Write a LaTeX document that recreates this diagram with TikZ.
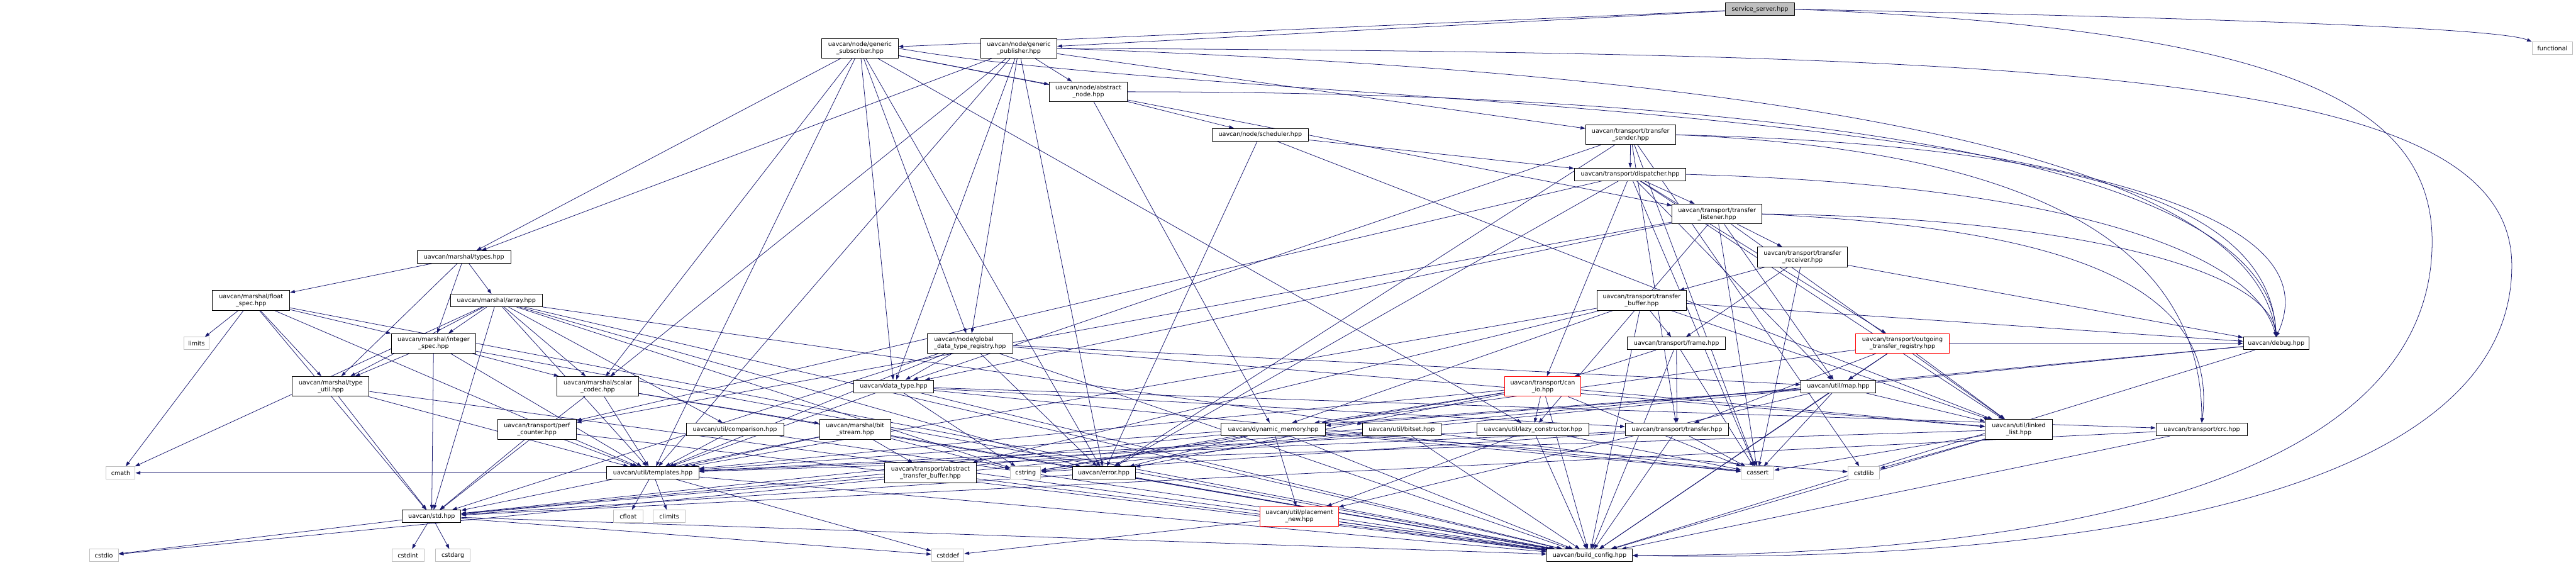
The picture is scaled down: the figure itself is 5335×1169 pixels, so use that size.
\documentclass[tikz,border=0pt]{standalone}
\usepackage{fontspec}
\setmainfont{DejaVu Sans}
\usetikzlibrary{arrows.meta}
\pgfdeclarelayer{bg}
\pgfsetlayers{bg,main}
\definecolor{edgec}{HTML}{191970}
\definecolor{sysg}{HTML}{BFBFBF}
\begin{document}
\begin{tikzpicture}[x=1bp,y=-1bp,
  nd/.style={draw=black,line width=1.3bp,fill=white,inner sep=0pt,align=center,minimum height=26bp,font=\fontsize{12.5bp}{14.5bp}\selectfont},
  two/.style={minimum height=41bp},
  sys/.style={nd,draw=sysg},
  hot/.style={nd,draw=red},
  root/.style={nd,fill=sysg},
  e/.style={draw=edgec,line width=1bp,-{Triangle[length=10bp,width=7bp]}}]
\useasboundingbox (0,0) rectangle (5335,1169);
% rank 1
\node[root,minimum width=144bp] (ss) at (3645,19) {service\_server.hpp};
% rank 2
\node[sys,minimum width=84bp] (fn) at (5286,100) {functional};
\node[nd,two,minimum width=158bp] (gs) at (1781,100) {uavcan/node/generic\\\_subscriber.hpp};
\node[nd,two,minimum width=158bp] (gp) at (2110,100) {uavcan/node/generic\\\_publisher.hpp};
% rank 3
\node[nd,two,minimum width=162bp] (an) at (2254,190) {uavcan/node/abstract\\\_node.hpp};
% rank 4
\node[nd,minimum width=200bp] (sch) at (2610,279) {uavcan/node/scheduler.hpp};
\node[nd,two,minimum width=186bp] (ts) at (3377,279) {uavcan/transport/transfer\\\_sender.hpp};
% rank 5
\node[nd,minimum width=231bp] (disp) at (3376,361) {uavcan/transport/dispatcher.hpp};
% rank 6
\node[nd,two,minimum width=186bp] (tl) at (3556,443) {uavcan/transport/transfer\\\_listener.hpp};
% rank 7
\node[nd,minimum width=194bp] (ty) at (961,532) {uavcan/marshal/types.hpp};
\node[nd,two,minimum width=186bp] (tr) at (3733,532) {uavcan/transport/transfer\\\_receiver.hpp};
% rank 8
\node[nd,two,minimum width=160bp] (fs) at (520,622) {uavcan/marshal/float\\\_spec.hpp};
\node[nd,minimum width=190bp] (ar) at (1028,622) {uavcan/marshal/array.hpp};
\node[nd,two,minimum width=185bp] (tb) at (3400,622) {uavcan/transport/transfer\\\_buffer.hpp};
% rank 9
\node[sys,minimum width=51bp] (lim) at (407,711) {limits};
\node[nd,two,minimum width=175bp] (is) at (898,711) {uavcan/marshal/integer\\\_spec.hpp};
\node[nd,two,minimum width=176bp,align=left] (gdtr) at (2009,711) {uavcan/node/global\\\_data\_type\_registry.hpp};
\node[nd,minimum width=203bp] (fr) at (3472,711) {uavcan/transport/frame.hpp};
\node[hot,two,minimum width=194bp] (otr) at (3940,711) {uavcan/transport/outgoing\\\_transfer\_registry.hpp};
\node[nd,minimum width=136bp] (dbg) at (4714,711) {uavcan/debug.hpp};
% rank 10
\node[nd,two,minimum width=159bp] (tu) at (685,800) {uavcan/marshal/type\\\_util.hpp};
\node[nd,two,minimum width=169bp] (sc) at (1238,800) {uavcan/marshal/scalar\\\_codec.hpp};
\node[nd,minimum width=165bp] (dt) at (1851,800) {uavcan/data\_type.hpp};
\node[hot,two,minimum width=158bp] (cio) at (3195,800) {uavcan/transport/can\\\_io.hpp};
\node[nd,minimum width=155bp] (map) at (3807,800) {uavcan/util/map.hpp};
% rank 11
\node[nd,two,minimum width=163bp] (pc) at (1112,889) {uavcan/transport/perf\\\_counter.hpp};
\node[nd,minimum width=202bp] (cmp) at (1522,889) {uavcan/util/comparison.hpp};
\node[nd,two,minimum width=147bp] (bs) at (1771,889) {uavcan/marshal/bit\\\_stream.hpp};
\node[nd,minimum width=217bp] (dm) at (2637,889) {uavcan/dynamic\_memory.hpp};
\node[nd,minimum width=162bp] (bset) at (2903,889) {uavcan/util/bitset.hpp};
\node[nd,minimum width=232bp] (lc) at (3175,889) {uavcan/util/lazy\_constructor.hpp};
\node[nd,minimum width=214bp] (tx) at (3473,889) {uavcan/transport/transfer.hpp};
\node[nd,two,minimum width=139bp] (ll) at (4181,889) {uavcan/util/linked\\\_list.hpp};
\node[nd,minimum width=190bp] (crc) at (4560,889) {uavcan/transport/crc.hpp};
% rank 12
\node[sys,minimum width=60bp] (cmath) at (250,979) {cmath};
\node[nd,minimum width=191bp] (tmp) at (1352,979) {uavcan/util/templates.hpp};
\node[nd,two,minimum width=191bp] (atb) at (1927,979) {uavcan/transport/abstract\\\_transfer\_buffer.hpp};
\node[sys,minimum width=63bp] (cstr) at (2124,979) {cstring};
\node[nd,minimum width=130bp] (err) at (2286,979) {uavcan/error.hpp};
\node[sys,minimum width=68bp] (cas) at (3640,979) {cassert};
\node[sys,minimum width=66bp] (cstdl) at (3860,979) {cstdlib};
% rank 13
\node[nd,minimum width=121bp] (std) at (894,1069) {uavcan/std.hpp};
\node[sys,minimum width=62bp] (cfl) at (1301,1069) {cfloat};
\node[sys,minimum width=67bp] (cli) at (1386,1069) {climits};
\node[hot,two,minimum width=162bp] (pn) at (2691,1069) {uavcan/util/placement\\\_new.hpp};
% rank 14
\node[sys,minimum width=60bp] (cstdio) at (215,1150) {cstdio};
\node[sys,minimum width=67bp] (cint) at (845,1150) {cstdint};
\node[sys,minimum width=71bp] (carg) at (938,1150) {cstdarg};
\node[sys,minimum width=67bp] (cdef) at (1963,1150) {cstddef};
\node[nd,minimum width=177bp] (bc) at (3292,1150) {uavcan/build\_config.hpp};

\begin{pgfonlayer}{bg}
\draw[e] (ss.east) .. controls (4700,40) and (5180,60) .. (fn.north west);
\draw[e] (ss.east) .. controls (4700,60) and (5037,200) .. (5037,500) .. controls (5037,1100) and (3900,1150) .. (bc.east);
\draw[e] (gp.east) .. controls (4300,110) and (5202,150) .. (5202,550) .. controls (5202,1130) and (3900,1160) .. (bc.east);
\draw[e] (gs.east) .. controls (2600,230) and (4940,200) .. (dbg.north);
\draw[e] (an.east) .. controls (3500,190) and (4700,300) .. (dbg.north);
\draw[e] (gp.east) .. controls (3600,150) and (4660,300) .. (dbg.north);
\draw[e] (ts.east) .. controls (4300,300) and (4700,420) .. (dbg.north);
\draw[e] (ts.east) .. controls (4200,310) and (4560,500) .. (crc.north);
\draw[e] (disp.east) .. controls (4200,380) and (4660,500) .. (dbg.north);
\draw[e] (tl.east) .. controls (4200,470) and (4600,560) .. (crc.north);
\draw[e] (tl.east) .. controls (4300,450) and (4700,560) .. (dbg.north);
\foreach \t in {gs,gp} \draw[e] (ss) -- (\t);
\foreach \t in {err,an,dt,gdtr,tmp,lc,tl,sc,ty} \draw[e] (gs) -- (\t);
\foreach \t in {err,an,dt,gdtr,tmp,ts,sc,ty} \draw[e] (gp) -- (\t);
\foreach \t in {sch,dm} \draw[e] (an) -- (\t);
\foreach \t in {disp,err,ll} \draw[e] (sch) -- (\t);
\foreach \t in {disp,cstdl,cas,err,dt,tx} \draw[e] (ts) -- (\t);
\foreach \t in {tl,otr,cio,ll,map,pc,err,cas} \draw[e] (disp) -- (\t);
\foreach \t in {tr,pc,dt,ll,map,cas,lc} \draw[e] (tl) -- (\t);
\foreach \t in {tb,fr,cas,dbg} \draw[e] (tr) -- (\t);
\foreach \t in {fr,dm,atb,ll,dbg,tmp,bc} \draw[e] (tb) -- (\t);
\foreach \t in {tx,cio,bc,cas} \draw[e] (fr) -- (\t);
\foreach \t in {map,tx,ll,dbg,dm,bc} \draw[e] (otr) -- (\t);
\foreach \t in {lc,dm,ll,err,cas,bc,tmp,cstr} \draw[e] (cio) -- (\t);
\foreach \t in {ll,dm,pn,cas,bc,tmp} \draw[e] (map) -- (\t);
\foreach \t in {bc,cas,cstdl,tmp} \draw[e] (ll) -- (\t);
\foreach \t in {bc,cas,cstr,tmp} \draw[e] (tx) -- (\t);
\foreach \t in {bc,cas,tmp,pn} \draw[e] (lc) -- (\t);
\foreach \t in {bc,cas,cstr} \draw[e] (bset) -- (\t);
\foreach \t in {pn,bc,std,cas,err,cstr,cstdl} \draw[e] (dm) -- (\t);
\foreach \t in {cdef,bc} \draw[e] (pn) -- (\t);
\foreach \t in {std,bc} \draw[e] (err) -- (\t);
\foreach \t in {bc,std} \draw[e] (atb) -- (\t);
\foreach \t in {cfl,cli,cdef,bc,cmath} \draw[e] (tmp) -- (\t);
\foreach \t in {cint,carg,cstdio,cdef,bc} \draw[e] (std) -- (\t);
\foreach \t in {tmp,bc} \draw[e] (cmp) -- (\t);
\foreach \t in {atb,std,bc,cstr,tmp} \draw[e] (bs) -- (\t);
\foreach \t in {tmp,std,bc} \draw[e] (pc) -- (\t);
\foreach \t in {bs,tmp,std,bc} \draw[e] (sc) -- (\t);
\foreach \t in {tmp,std,bc} \draw[e] (tu) -- (\t);
\foreach \t in {tu,sc,std,tmp,bc} \draw[e] (is) -- (\t);
\foreach \t in {lim,tu,is,std,tmp,cmath,bc} \draw[e] (fs) -- (\t);
\foreach \t in {is,tu,sc,tmp,std,err,bc,cstr,cmp,bset,cmath} \draw[e] (ar) -- (\t);
\foreach \t in {fs,ar,is,tu} \draw[e] (ty) -- (\t);
\foreach \t in {dt,map,ll,err,tmp,bc,std} \draw[e] (gdtr) -- (\t);
\foreach \t in {tx,crc,cstr,bc,tmp,cas} \draw[e] (dt) -- (\t);
\foreach \t in {std,bc} \draw[e] (crc) -- (\t);
\foreach \t in {std,bc,cstdio} \draw[e] (dbg) -- (\t);
\end{pgfonlayer}
\end{tikzpicture}
\end{document}
